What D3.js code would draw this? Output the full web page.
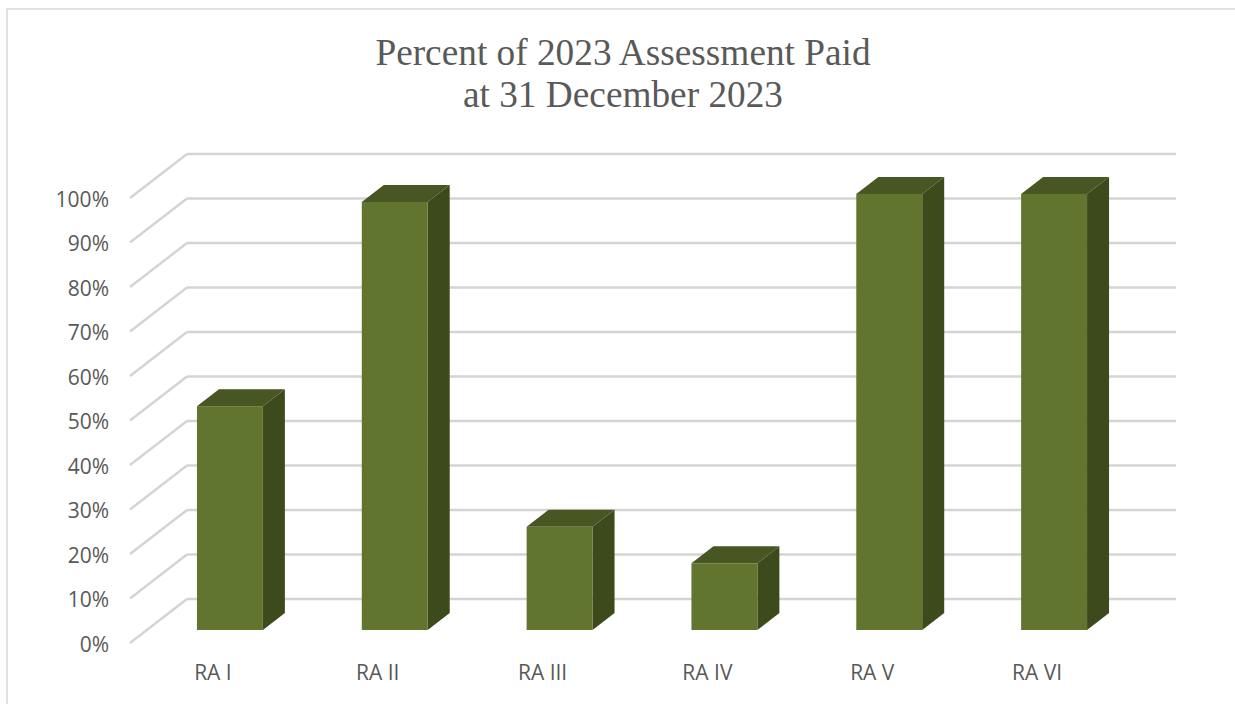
<!DOCTYPE html>
<html lang="en">

<head>
    <meta charset="UTF-8">
    <title>Percent of 2023 Assessment Paid</title>
    <script src="https://d3js.org/d3.v7.min.js"></script>
    <style>
        body {
            margin: 0;
            background: #fff;
        }

        svg {
            display: block;
        }

        .title {
            font-family: 'Liberation Serif', serif;
            font-size: 37.3px;
            fill: #595959;
            text-anchor: middle;
        }

        .axis text {
            font-family: 'Open Sans', sans-serif;
            font-size: 21px;
            fill: #595959;
        }

        .axis path,
        .axis line {
            display: none;
        }
    </style>
</head>

<body>
    <svg id="chart" width="1235" height="704"></svg>
    <script>
        const categories = ["RA I", "RA II", "RA III", "RA IV", "RA V", "RA VI"];
        const percentPaid = [50.3, 96.2, 23.2, 15, 98, 98];
        const yTicks = [0, 10, 20, 30, 40, 50, 60, 70, 80, 90, 100];
        const titleLines = ["Percent of 2023 Assessment Paid", "at 31 December 2023"];

        const svg = d3.select("#chart");

        // front plane of the fake 3d box
        const x = d3.scaleBand().domain(categories).range([130, 1119]).paddingInner(0.6).paddingOuter(0.3);
        const y = d3.scaleLinear().domain([0, 100]).range([643, 198]);

        // depth of the floor, and where the bars sit inside it
        const depthX = 57, depthY = -44;
        const barOffX = 17.5, barOffY = -13;
        const barDepthX = 22, barDepthY = -17;

        // chart border, open at the right and bottom
        svg.append("path")
            .attr("d", "M7,704V9H1235")
            .attr("fill", "none")
            .attr("stroke", "#d9d9d9")
            .attr("stroke-width", 1.5);

        // title
        svg.selectAll(".title")
            .data(titleLines)
            .enter()
            .append("text")
            .attr("class", "title")
            .attr("x", 623)
            .attr("y", (d, i) => 65 + i * 42)
            .text(d => d);

        // wall gridlines
        const grid = svg.append("g").attr("fill", "none").attr("stroke", "#d4d4d4");
        grid.selectAll(".side")
            .data(yTicks)
            .enter()
            .append("line")
            .attr("class", "side")
            .attr("x1", 130)
            .attr("y1", d => y(d))
            .attr("x2", 130 + depthX)
            .attr("y2", d => y(d) + depthY)
            .attr("stroke-width", 2.4);
        grid.selectAll(".back")
            .data(yTicks)
            .enter()
            .append("line")
            .attr("class", "back")
            .attr("x1", 130 + depthX)
            .attr("y1", d => y(d) + depthY)
            .attr("x2", 1119 + depthX)
            .attr("y2", d => y(d) + depthY)
            .attr("stroke-width", 2.6);

        // axes
        svg.append("g")
            .attr("class", "axis")
            .attr("transform", "translate(116,1.5)")
            .call(d3.axisLeft(y).tickValues(yTicks).tickFormat(d => d + "%").tickSize(0).tickPadding(7));

        svg.append("g")
            .attr("class", "axis")
            .attr("transform", "translate(0.5,665)")
            .call(d3.axisBottom(x).tickSize(0).tickPadding(0));

        // bars: side, top, front
        const bars = svg.selectAll(".bar")
            .data(categories.map((c, i) => ({ c, v: percentPaid[i] })))
            .enter()
            .append("g")
            .attr("class", "bar")
            .attr("transform", `translate(${barOffX},${barOffY})`);

        bars.append("path")
            .attr("fill", "#3c4a1c")
            .attr("d", d => {
                const r = x(d.c) + x.bandwidth();
                return `M${r},${y(0)}L${r + barDepthX},${y(0) + barDepthY}L${r + barDepthX},${y(d.v) + barDepthY}L${r},${y(d.v)}Z`;
            });

        bars.append("path")
            .attr("fill", "#475623")
            .attr("d", d => {
                const l = x(d.c), r = l + x.bandwidth();
                return `M${l},${y(d.v)}L${l + barDepthX},${y(d.v) + barDepthY}L${r + barDepthX},${y(d.v) + barDepthY}L${r},${y(d.v)}Z`;
            });

        bars.append("rect")
            .attr("fill", "#61752f")
            .attr("x", d => x(d.c))
            .attr("y", d => y(d.v))
            .attr("width", x.bandwidth())
            .attr("height", d => y(0) - y(d.v));
    </script>
</body>

</html>
